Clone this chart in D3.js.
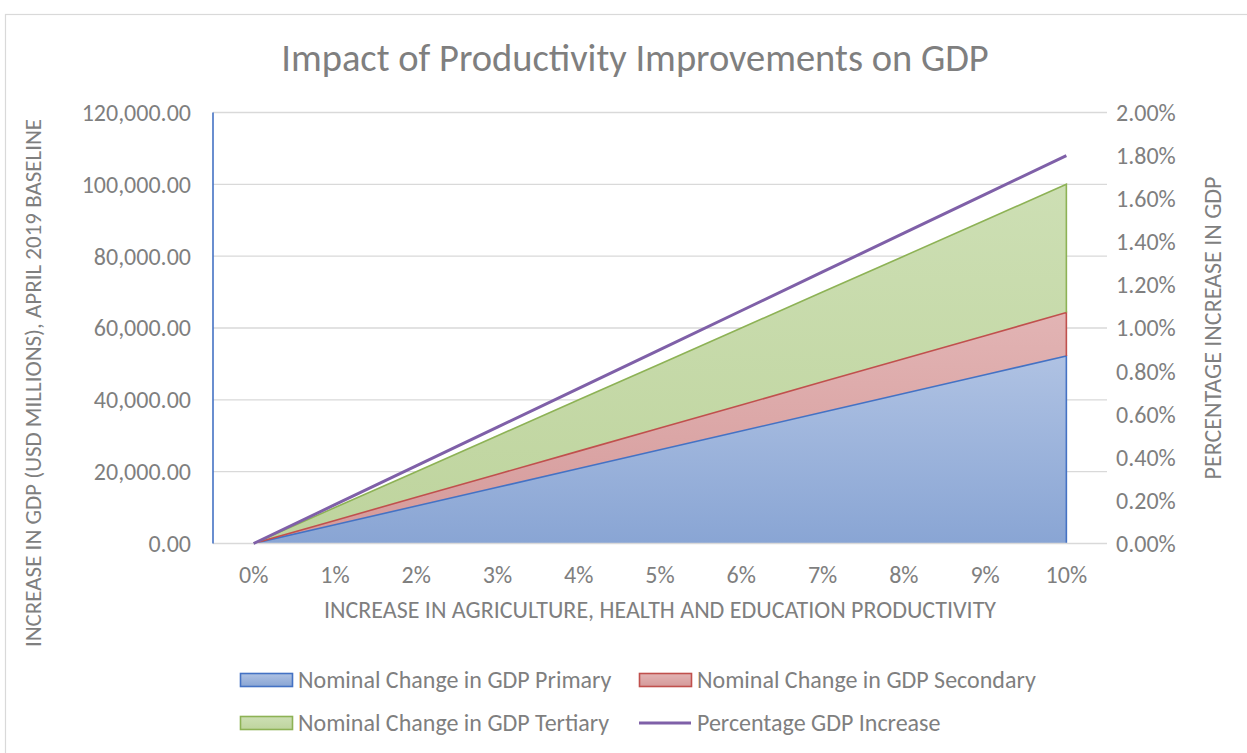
<!DOCTYPE html>
<html>
<head>
<meta charset="utf-8">
<script src="https://cdn.jsdelivr.net/npm/d3@7"></script>
<style>
  body { margin: 0; background: #fff; }
  text { font-family: Carlito, Calibri, "Open Sans", sans-serif; fill: #7f7f7f; }
</style>
</head>
<body>
<div id="chart"></div>
<script>
// data
var categories = ["0%", "1%", "2%", "3%", "4%", "5%", "6%", "7%", "8%", "9%", "10%"];
var primary = [0, 5220, 10440, 15660, 20880, 26100, 31320, 36540, 41760, 46980, 52200];
var secondary = [0, 1210, 2420, 3630, 4840, 6050, 7260, 8470, 9680, 10890, 12100];
var tertiary = [0, 3570, 7140, 10710, 14280, 17850, 21420, 24990, 28560, 32130, 35700];
var pctIncrease = [0, 0.0018, 0.0036, 0.0054, 0.0072, 0.009, 0.0108, 0.0126, 0.0144, 0.0162, 0.018];
var seriesNames = ["Nominal Change in GDP Primary", "Nominal Change in GDP Secondary",
  "Nominal Change in GDP Tertiary", "Percentage GDP Increase"];
var leftTicks = [0, 20000, 40000, 60000, 80000, 100000, 120000];
var rightTicks = [0, 0.002, 0.004, 0.006, 0.008, 0.01, 0.012, 0.014, 0.016, 0.018, 0.02];

var W = 1247, H = 753;
var plot = { left: 213, right: 1107, top: 112.5, bottom: 543.5 };

var svg = d3.select("#chart").append("svg")
  .attr("width", W).attr("height", H);

// chart frame
svg.append("rect")
  .attr("x", 5.5).attr("y", 14.5).attr("width", W + 10).attr("height", H + 10)
  .attr("fill", "#fff").attr("stroke", "#d9d9d9").attr("stroke-width", 1.2);

var defs = svg.append("defs");
function grad(id, top, bottom) {
  var g = defs.append("linearGradient").attr("id", id)
    .attr("x1", 0).attr("y1", 0).attr("x2", 0).attr("y2", 1);
  g.append("stop").attr("offset", "0%").attr("stop-color", top);
  g.append("stop").attr("offset", "100%").attr("stop-color", bottom);
}
grad("gBlue", "#afc2e3", "#89a5d4");
grad("gRed", "#e2b4b4", "#d59a9a");
grad("gGreen", "#cddfb4", "#bed49d");

var x = d3.scaleBand().domain(categories).range([plot.left, plot.right]);
var y = d3.scaleLinear().domain([0, 120000]).range([plot.bottom, plot.top]);
var y2 = d3.scaleLinear().domain([0, 0.02]).range([plot.bottom, plot.top]);
var cx = function (i) { return x(categories[i]) + x.bandwidth() / 2; };

// gridlines
svg.append("g").selectAll("line").data(leftTicks.slice(1)).enter().append("line")
  .attr("x1", plot.left).attr("x2", plot.right)
  .attr("y1", function (d) { return y(d); }).attr("y2", function (d) { return y(d); })
  .attr("stroke", "#d9d9d9").attr("stroke-width", 1.3);

// stacked areas
var rows = categories.map(function (c, i) {
  return { cat: c, primary: primary[i], secondary: secondary[i], tertiary: tertiary[i] };
});
var stack = d3.stack().keys(["primary", "secondary", "tertiary"])(rows);
var fills = ["url(#gBlue)", "url(#gRed)", "url(#gGreen)"];
var strokes = ["#4472c4", "#c0504d", "#8db255"];

var area = d3.area()
  .x(function (d, i) { return cx(i); })
  .y0(function (d) { return y(d[0]); })
  .y1(function (d) { return y(d[1]); });

stack.forEach(function (s, k) {
  svg.append("path").datum(s)
    .attr("d", area)
    .attr("fill", fills[k]).attr("stroke", "none");
});
// outlines: top edge and right edge of each band
stack.forEach(function (s, k) {
  var last = s.length - 1;
  var pts = s.map(function (d, i) { return [cx(i), y(d[1])]; });
  pts.push([cx(last), y(s[last][0])]);
  svg.append("path")
    .attr("d", d3.line()(pts))
    .attr("fill", "none").attr("stroke", strokes[k]).attr("stroke-width", 1.6);
});

// x axis line
svg.append("line")
  .attr("x1", plot.left).attr("x2", plot.right)
  .attr("y1", plot.bottom).attr("y2", plot.bottom)
  .attr("stroke", "#d9d9d9").attr("stroke-width", 1.5);

// left vertical axis line
svg.append("line")
  .attr("x1", plot.left).attr("x2", plot.left)
  .attr("y1", plot.top).attr("y2", plot.bottom)
  .attr("stroke", "#4472c4").attr("stroke-width", 1.6);

// percentage line
svg.append("path").datum(pctIncrease)
  .attr("d", d3.line().x(function (d, i) { return cx(i); }).y(function (d) { return y2(d); }))
  .attr("fill", "none").attr("stroke", "#7f60a8").attr("stroke-width", 3);

// tick labels
var fmtL = d3.format(",.2f"), fmtR = d3.format(".2%");
svg.append("g").selectAll("text").data(leftTicks).enter().append("text")
  .attr("x", 191).attr("y", function (d) { return y(d); }).attr("dy", "0.35em")
  .attr("text-anchor", "end").style("font-size", "24px")
  .text(function (d) { return fmtL(d); });

svg.append("g").selectAll("text").data(rightTicks).enter().append("text")
  .attr("x", 1116).attr("y", function (d) { return y2(d); }).attr("dy", "0.35em")
  .attr("text-anchor", "start").style("font-size", "24px")
  .text(function (d) { return fmtR(d); });

svg.append("g").selectAll("text").data(categories).enter().append("text")
  .attr("x", function (d) { return x(d) + x.bandwidth() / 2; }).attr("y", 575)
  .attr("dy", "0.35em")
  .attr("text-anchor", "middle").style("font-size", "24px")
  .text(function (d) { return d; });

// titles
svg.append("text").attr("x", 635).attr("y", 58).attr("dy", "0.35em").attr("text-anchor", "middle")
  .style("font-size", "38.5px").text("Impact of Productivity Improvements on GDP");

svg.append("text").attr("x", 660).attr("y", 610).attr("dy", "0.35em").attr("text-anchor", "middle")
  .style("font-size", "24px").text("INCREASE IN AGRICULTURE, HEALTH AND EDUCATION PRODUCTIVITY");

svg.append("text").attr("transform", "translate(33,383) rotate(-90)").attr("dy", "0.35em")
  .attr("text-anchor", "middle")
  .style("font-size", "23px").text("INCREASE IN GDP (USD MILLIONS), APRIL 2019 BASELINE");

svg.append("text").attr("transform", "translate(1213,328) rotate(-90)").attr("dy", "0.35em")
  .attr("text-anchor", "middle")
  .style("font-size", "24px").text("PERCENTAGE INCREASE IN GDP");

// legend
var legend = [
  { name: seriesNames[0], x: 240, y: 680, type: "area", fill: "url(#gBlue)", stroke: strokes[0] },
  { name: seriesNames[1], x: 639, y: 680, type: "area", fill: "url(#gRed)", stroke: strokes[1] },
  { name: seriesNames[2], x: 240, y: 723, type: "area", fill: "url(#gGreen)", stroke: strokes[2] },
  { name: seriesNames[3], x: 639, y: 723, type: "line", stroke: "#7f60a8" }
];
var lg = svg.append("g").selectAll("g").data(legend).enter().append("g")
  .attr("transform", function (d) { return "translate(" + d.x + "," + d.y + ")"; });
lg.each(function (d) {
  var g = d3.select(this);
  if (d.type === "area") {
    g.append("rect").attr("x", 0.5).attr("y", -6.5).attr("width", 52).attr("height", 13)
      .attr("fill", d.fill).attr("stroke", d.stroke).attr("stroke-width", 1.6);
  } else {
    g.append("line").attr("x1", 0).attr("x2", 52).attr("y1", 0).attr("y2", 0)
      .attr("stroke", d.stroke).attr("stroke-width", 3);
  }
  g.append("text").attr("x", 58).attr("y", 0).attr("dy", "0.35em")
    .style("font-size", "24px").text(d.name);
});
</script>
</body>
</html>
